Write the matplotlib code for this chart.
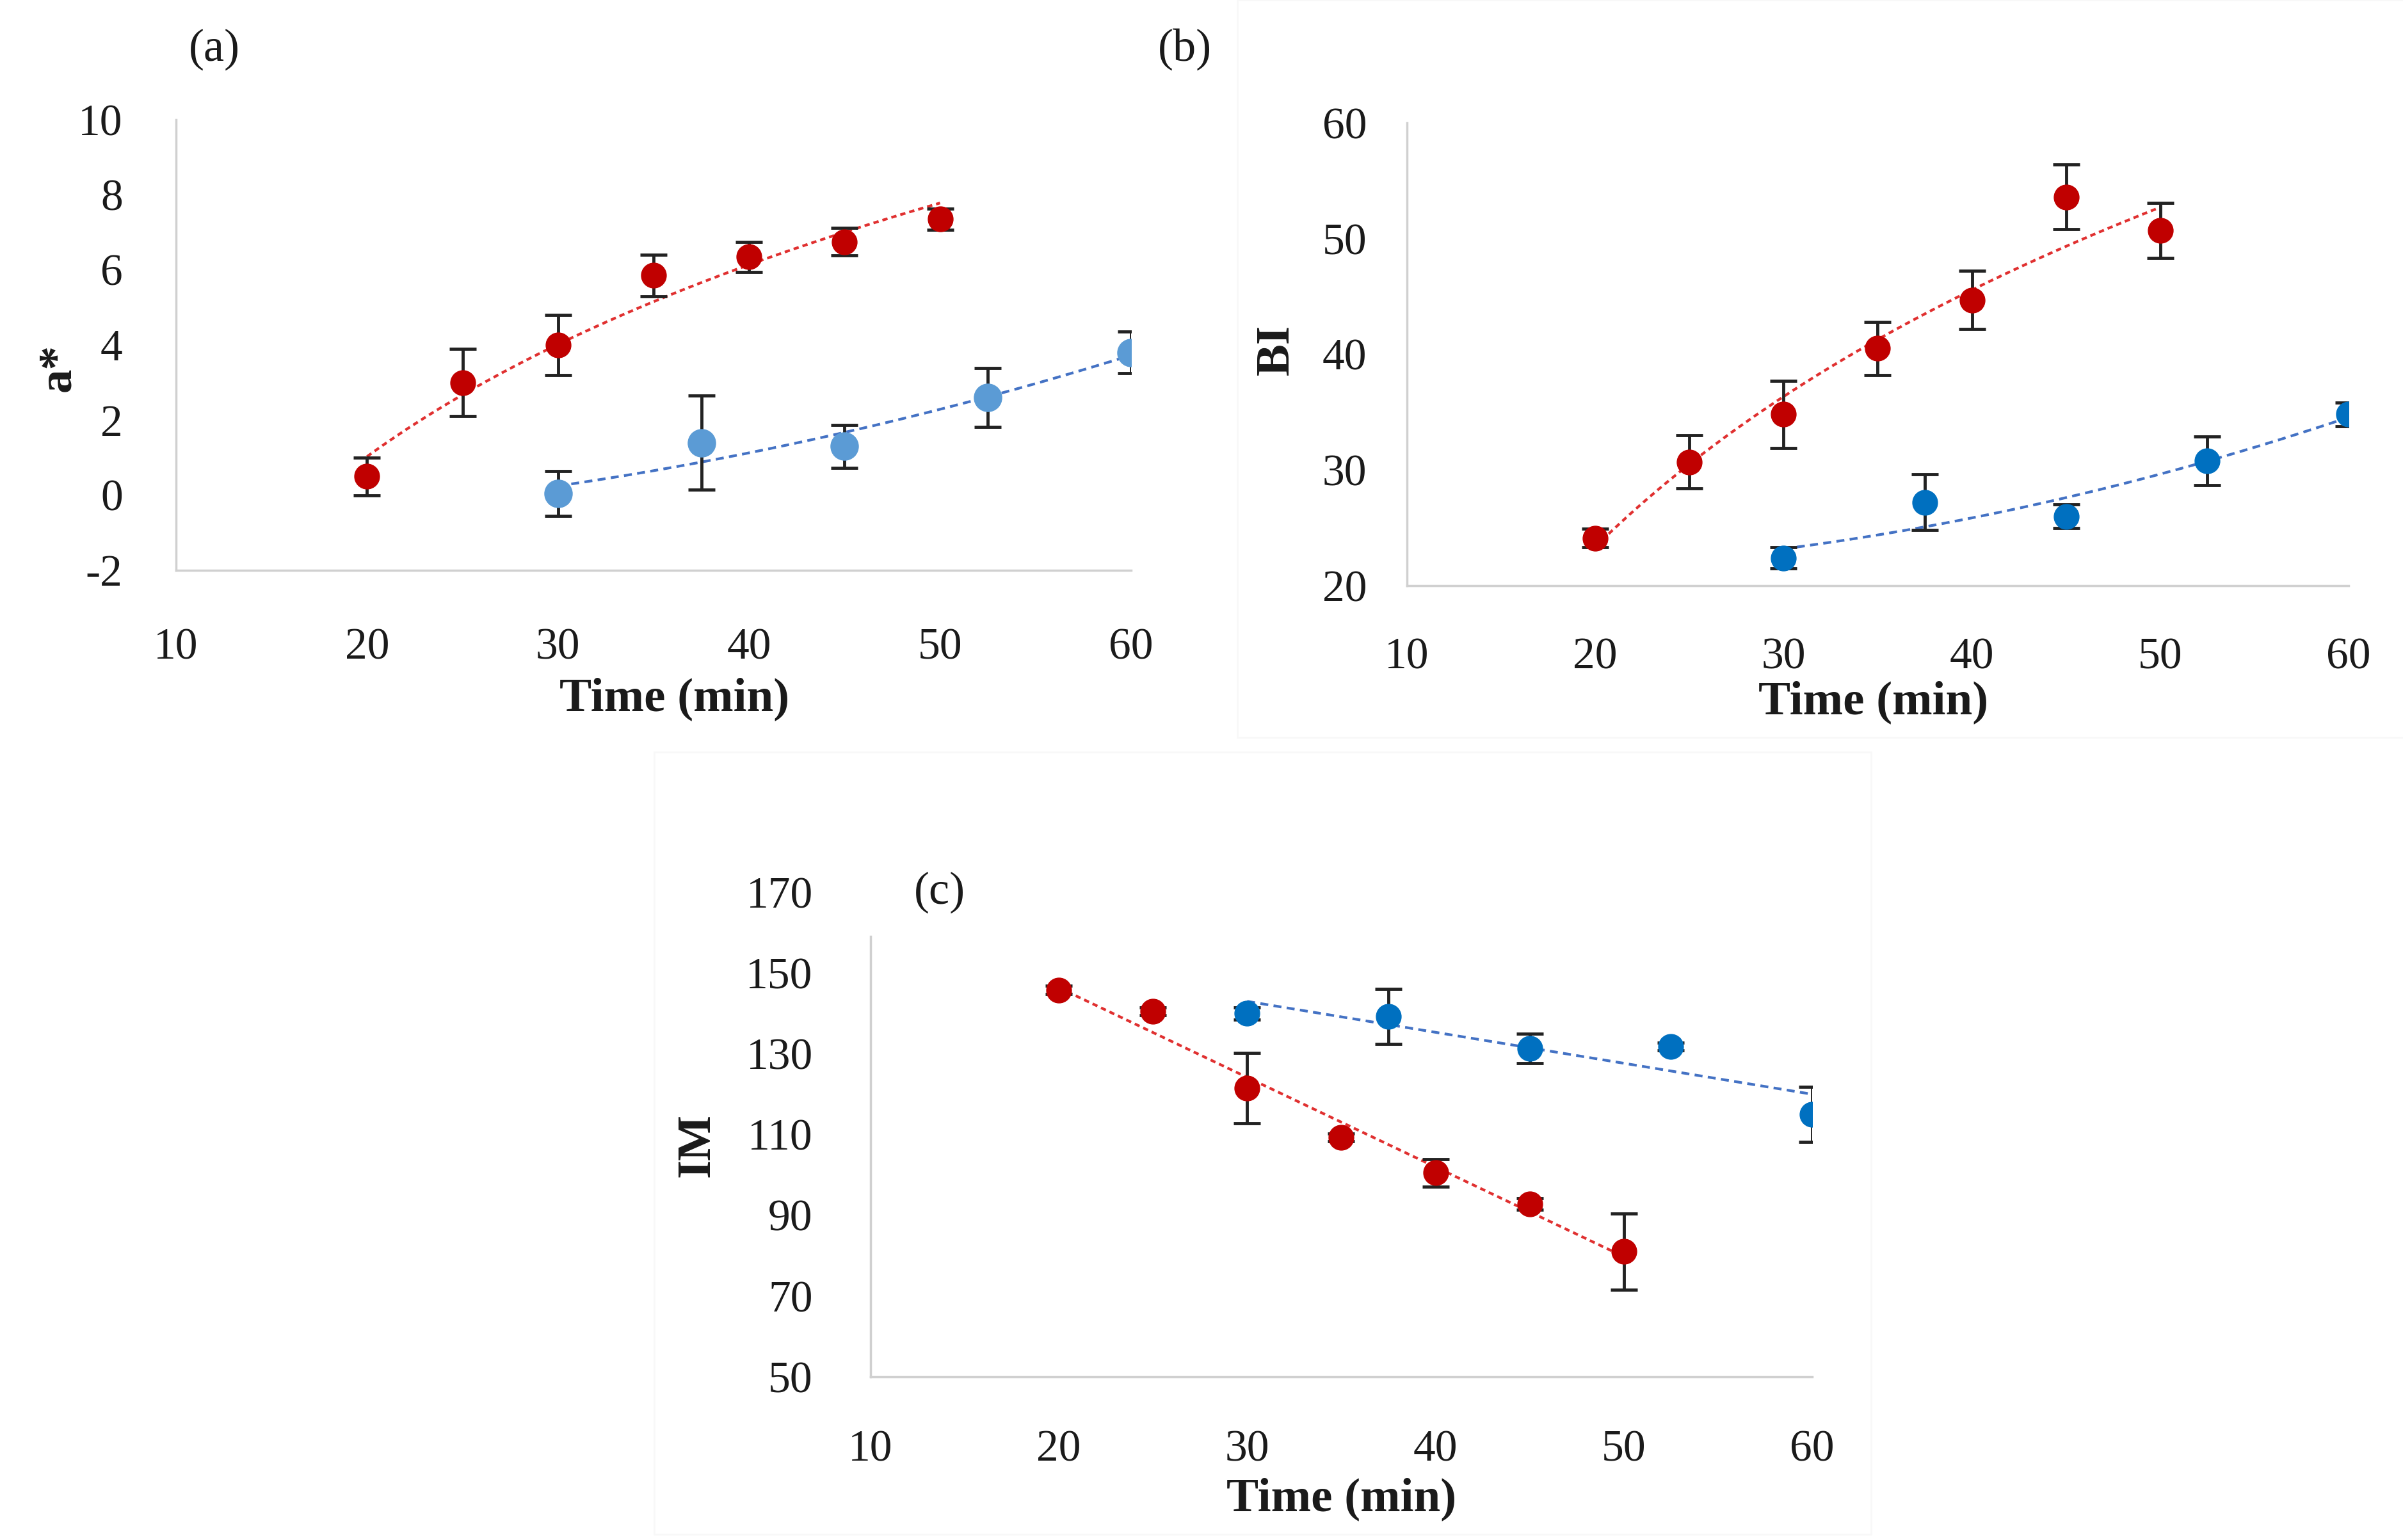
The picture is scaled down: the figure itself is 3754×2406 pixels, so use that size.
import numpy as np
import matplotlib
matplotlib.use("Agg")
import matplotlib.pyplot as plt
from matplotlib.patches import Rectangle

plt.rcParams['font.family'] = ['Liberation Serif', 'DejaVu Serif']
plt.rcParams['axes.unicode_minus'] = False

# time axes (min)
t_red = [20, 25, 30, 35, 40, 45, 50]
t_blue = [30, 37.5, 45, 52.5, 60]

# (a) a*
a_red = [0.5, 3.0, 4.0, 5.85, 6.35, 6.75, 7.35]
a_red_err = [0.5, 0.9, 0.8, 0.55, 0.4, 0.37, 0.28]
a_blue = [0.05, 1.4, 1.3, 2.6, 3.8]
a_blue_err = [0.6, 1.25, 0.57, 0.78, 0.55]

# (b) BI
bi_red = [24.1, 30.7, 34.8, 40.5, 44.7, 53.6, 50.7]
bi_red_err = [0.8, 2.3, 2.9, 2.3, 2.5, 2.8, 2.4]
bi_blue = [22.4, 27.2, 26.0, 30.8, 34.8]
bi_blue_err = [0.9, 2.4, 1.0, 2.1, 1.0]

# (c) IM
im_red = [145.8, 140.5, 121.5, 109.3, 100.5, 92.8, 81.0]
im_red_err = [1.0, 1.0, 8.7, 1.0, 3.4, 1.5, 9.5]
im_blue = [140.0, 139.3, 131.3, 131.8, 115.0]
im_blue_err = [1.5, 6.8, 3.6, 1.0, 6.8]

RED = '#c00000'
BLUE_LIGHT = '#5b9bd5'
BLUE = '#0070c0'
TREND_RED = '#e03030'
TREND_BLUE = '#4472c4'
W, H = 3755, 2406

fig = plt.figure(figsize=(W / 100, H / 100), dpi=100)

# very faint chart-area borders
fig.patches.append(Rectangle((1933 / W, 1 - 1152 / H), (W - 1933) / W, 1152 / H,
                             transform=fig.transFigure, fill=False,
                             edgecolor='#f8f8f8', linewidth=2))
fig.patches.append(Rectangle((1022 / W, 1 - 2397 / H), (2923 - 1022) / W, (2397 - 1175) / H,
                             transform=fig.transFigure, fill=False,
                             edgecolor='#f8f8f8', linewidth=2))


def add_ax(left, right, top, bottom):
    return fig.add_axes([left / W, 1 - bottom / H, (right - left) / W, (bottom - top) / H])


def style(ax, ylim, yticks, xpad, ypad):
    ax.set_xlim(10, 60)
    ax.set_ylim(*ylim)
    ax.set_xticks([10, 20, 30, 40, 50, 60])
    ax.set_yticks(yticks)
    for s in ['top', 'right']:
        ax.spines[s].set_visible(False)
    for s in ['left', 'bottom']:
        ax.spines[s].set_color('#d0d0d0')
        ax.spines[s].set_linewidth(2.5)
    ax.tick_params(axis='x', length=0, pad=xpad, labelsize=50, colors='#1a1a1a')
    ax.tick_params(axis='y', length=0, pad=ypad, labelsize=50, colors='#1a1a1a')
    ax.patch.set_alpha(0)


def series(ax, x, y, err, color, tcolor, fit, ls, ms=28):
    ax.errorbar(x, y, yerr=err, fmt='none', ecolor='#222222', elinewidth=3.5,
                capsize=15, capthick=3.5, zorder=3)
    ax.plot(x, y, 'o', color=color, markersize=ms, zorder=4)
    x = np.asarray(x, float)
    xx = np.linspace(x.min(), x.max(), 200)
    if fit == 'log':
        coef = np.polyfit(np.log(x), y, 1)
        yy = np.polyval(coef, np.log(xx))
    else:
        coef = np.polyfit(x, y, fit)
        yy = np.polyval(coef, xx)
    ax.plot(xx, yy, linestyle=ls, color=tcolor, linewidth=3, zorder=2)


RED_LS = (0, (2, 1.5))
BLUE_LS = (0, (3, 2))

# (a)
ax1 = add_ax(275, 1767, 187, 891)
style(ax1, (-2, 10), [-2, 0, 2, 4, 6, 8, 10], 65, 60)
series(ax1, t_red, a_red, a_red_err, RED, TREND_RED, 'log', RED_LS)
series(ax1, t_blue, a_blue, a_blue_err, BLUE_LIGHT, TREND_BLUE, 2, BLUE_LS, ms=31)

# (b)
ax2 = add_ax(2198, 3669, 192, 915)
style(ax2, (20, 60), [20, 30, 40, 50, 60], 58, 45)
series(ax2, t_red, bi_red, bi_red_err, RED, TREND_RED, 'log', RED_LS)
series(ax2, t_blue, bi_blue, bi_blue_err, BLUE, TREND_BLUE, 2, BLUE_LS)

# (c)
ax3 = add_ax(1360, 2831, 1394, 2151)
style(ax3, (50, 170), [50, 70, 90, 110, 130, 150, 170], 60, 65)
ax3.spines['left'].set_bounds(50, 159)
series(ax3, t_red, im_red, im_red_err, RED, TREND_RED, 1, RED_LS)
series(ax3, t_blue, im_blue, im_blue_err, BLUE, TREND_BLUE, 1, BLUE_LS)

# axis titles and panel labels
lab = dict(fontsize=54, fontweight='bold', ha='center', va='center', color='#1a1a1a')
fig.text(1054 / W, 1 - 1092 / H, 'Time (min)', **lab)
fig.text(2927 / W, 1 - 1097 / H, 'Time (min)', **lab)
fig.text(2096 / W, 1 - 2342 / H, 'Time (min)', **lab)
fig.text(91 / W, 1 - 575 / H, 'a*', rotation=90, **lab)
fig.text(1995 / W, 1 - 546 / H, 'BI', rotation=90, **lab)
fig.text(1090 / W, 1 - 1789 / H, 'IM', rotation=90, **lab)

pl = dict(fontsize=52, ha='center', va='center', color='#1a1a1a')
fig.text(335 / W, 1 - 77 / H, '(a)', **pl)
fig.text(1851 / W, 1 - 77 / H, '(b)', **pl)
fig.text(1468 / W, 1 - 1394 / H, '(c)', **pl)

fig.savefig('out.png', dpi=100, facecolor='white')
